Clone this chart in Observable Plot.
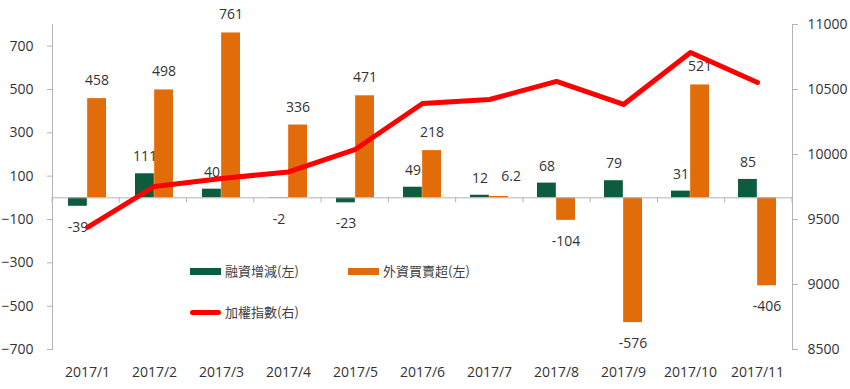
<!DOCTYPE html>
<html><head><meta charset="utf-8">
<script src="https://cdn.jsdelivr.net/npm/d3@7"></script>
<script src="https://cdn.jsdelivr.net/npm/@observablehq/plot@0.6"></script>
<style>
body{margin:0;background:#fff;font-family:"Open Sans","Noto Sans CJK TC",sans-serif;}
#wrap{position:relative;width:850px;height:389px;overflow:hidden;}
.lg{position:absolute;font-size:13px;color:#404040;white-space:nowrap;line-height:16px;font-family:"Noto Sans CJK TC","Open Sans",sans-serif;}
.sw{position:absolute;}
</style></head><body><div id="wrap"></div>
<script>
const months = ["2017/1","2017/2","2017/3","2017/4","2017/5","2017/6","2017/7","2017/8","2017/9","2017/10","2017/11"];
const marginChange = [-39,111,40,-2,-23,49,12,68,79,31,85];
const foreignNet = [458,498,761,336,471,218,6.2,-104,-576,521,-406];
const taiex = [9440,9754,9815,9866,10040,10392,10423,10562,10385,10785,10554];
const leftTicks = [-700,-500,-300,-100,100,300,500,700];
const rightTicks = [8500,9000,9500,10000,10500,11000];
const seriesNames = ["融資增減(左)","外資買賣超(左)","加權指數(右)"];
const colors = ["#0E5C3F","#E36C0A","#FF0000"];

const W=850,H=389,mL=52,mR=58,mT=24,mB=40;
const pad=0.43;
const step=(W-mL-mR)/months.length;
const half=step*(1-pad)/2;
const toLeft=v=>-700+(v-8500)*0.6;
const fromLeft=y=>8500+(y+700)/0.6;
const data=months.map((m,i)=>({month:m,g:marginChange[i],o:foreignNet[i],idx:taiex[i]}));
const axisGrey="#B4B4B4";
const txt="#333333";
const font='"Open Sans","Noto Sans CJK TC",sans-serif';
// small orange labels next to a small green label are nudged right (as Excel does to avoid overlap)
const crowded=d=>d.o>=0&&d.o<20&&d.g>=0&&d.g<20;

const plot=Plot.plot({
  width:W,height:H,marginLeft:mL,marginRight:mR,marginTop:mT,marginBottom:mB,
  style:{fontFamily:font,fontSize:"14px",color:txt,background:"transparent",overflow:"visible"},
  x:{type:"band",domain:months,paddingInner:pad,paddingOuter:pad/2,label:null},
  y:{domain:[-700,800],label:null},
  marks:[
    Plot.frame({anchor:"left",stroke:axisGrey}),
    Plot.frame({anchor:"right",stroke:axisGrey}),
    Plot.axisY(leftTicks,{anchor:"left",tickSize:5,tickPadding:14,stroke:axisGrey,fontSize:14,label:null}),
    Plot.axisY(rightTicks.map(toLeft),{anchor:"right",tickSize:5,tickPadding:10,stroke:axisGrey,fontSize:14,label:null,tickFormat:d=>String(Math.round(fromLeft(d)))}),
    Plot.axisX({anchor:"bottom",tickSize:0,tickPadding:18,fontSize:14,label:null}),
    Plot.barY(data,{x:"month",y:"g",fill:colors[0],insetRight:half}),
    Plot.barY(data,{x:"month",y:"o",fill:colors[1],insetLeft:half}),
    Plot.ruleY([0],{stroke:axisGrey}),
    Plot.text(data,{filter:d=>d.g>=0,x:"month",y:"g",text:d=>String(d.g),dx:-half/2,dy:-17,fill:txt,fontSize:14}),
    Plot.text(data,{filter:d=>d.g<0,x:"month",y:"g",text:d=>String(d.g),dx:-half/2,dy:21,fill:txt,fontSize:14}),
    Plot.text(data,{filter:d=>d.o>=0&&!crowded(d),x:"month",y:"o",text:d=>String(d.o),dx:half/2,dy:-18,fill:txt,fontSize:14}),
    Plot.text(data,{filter:crowded,x:"month",y:"o",text:d=>String(d.o),dx:half/2+12,dy:-20,fill:txt,fontSize:14}),
    Plot.text(data,{filter:d=>d.o<0,x:"month",y:"o",text:d=>String(d.o),dx:half/2,dy:21,fill:txt,fontSize:14}),
    Plot.lineY(data,{x:"month",y:d=>toLeft(d.idx),stroke:colors[2],strokeWidth:5,strokeLinecap:"round",strokeLinejoin:"round"})
  ]
});
const wrap=document.getElementById("wrap");
wrap.appendChild(plot);

// category boundary ticks on the zero line
const ys=plot.scale("y");
const y0=ys.apply(0);
const svg=d3.select(plot);
const g=svg.append("g").attr("stroke",axisGrey);
for(let k=0;k<=months.length;k++){
  const x=mL+k*step;
  g.append("line").attr("x1",x).attr("x2",x).attr("y1",y0).attr("y2",y0+5);
}

// legend (inside plot area)
const legendPos=[[190,271],[348,271],[190,312]];
seriesNames.forEach((name,i)=>{
  const [lx,ly]=legendPos[i];
  const sw=document.createElement("div");
  sw.className="sw";
  const h=i===2?5:7;
  sw.style.cssText=`left:${lx}px;top:${ly-h/2}px;width:31px;height:${h}px;background:${colors[i]};border-radius:${i===2?3:0}px;`;
  wrap.appendChild(sw);
  const t=document.createElement("div");
  t.className="lg";
  t.textContent=name;
  t.style.left=(lx+35)+"px";
  t.style.top=(ly-8)+"px";
  wrap.appendChild(t);
});
</script>
</body></html>
